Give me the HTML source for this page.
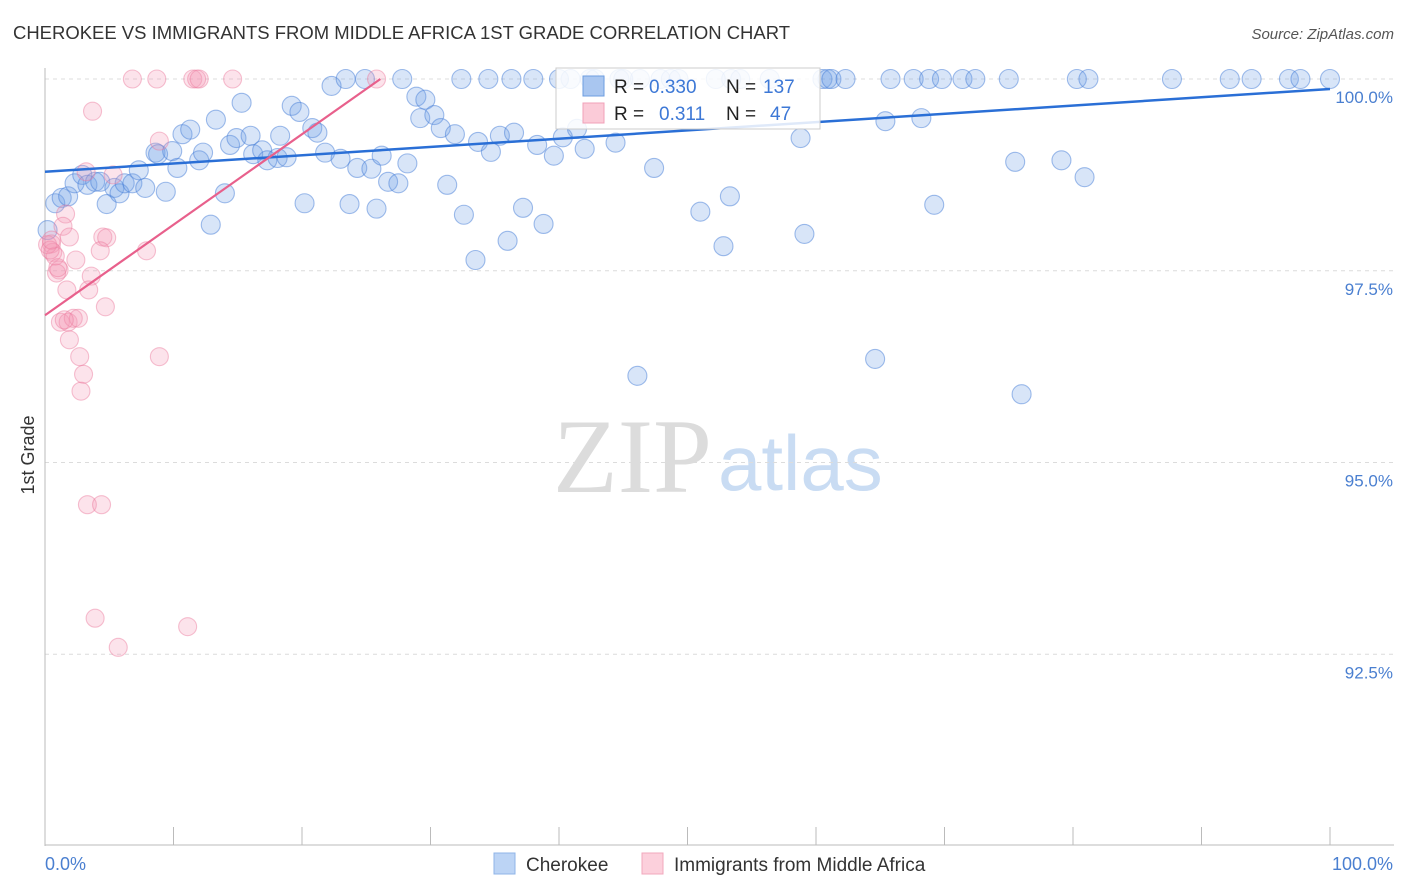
<!DOCTYPE html>
<html><head><meta charset="utf-8"><style>
body{margin:0;background:#fff;font-family:"Liberation Sans",sans-serif;}
svg{display:block}
</style></head><body>
<svg id="chart" width="1406" height="892" xmlns="http://www.w3.org/2000/svg">
<text x="13" y="39" font-size="18" fill="#333" textLength="777" lengthAdjust="spacingAndGlyphs">CHEROKEE VS IMMIGRANTS FROM MIDDLE AFRICA 1ST GRADE CORRELATION CHART</text>
<text x="1394" y="39" font-size="15" fill="#555" font-style="italic" text-anchor="end">Source: ZipAtlas.com</text>
<g>
<text x="553" y="492" font-size="106" font-family="Liberation Serif,serif" fill="#dcdcdc">ZIP</text>
<text x="718" y="490" font-size="78" fill="#c9dcf3">atlas</text>
</g>
<g id="grid"></g>
<g id="axes"></g>
<g id="marks"></g>
<text transform="translate(34,455) rotate(-90)" font-size="18" fill="#333" text-anchor="middle">1st Grade</text>
<g>
<rect x="556" y="68" width="264" height="61" fill="#fff" fill-opacity="0.85" stroke="#ccc"/>
<rect x="583" y="76" width="21" height="20" fill="#a9c6f0" stroke="#6d9de0"/>
<text x="614" y="93" font-size="19" fill="#222">R =</text>
<text x="649" y="93" font-size="19" fill="#3d78d6">0.330</text>
<text x="726" y="93" font-size="19" fill="#222">N =</text>
<text x="763" y="93" font-size="19" fill="#3d78d6">137</text>
<rect x="583" y="103" width="21" height="20" fill="#fbcbd8" stroke="#f0a0b8"/>
<text x="614" y="120" font-size="19" fill="#222">R =</text>
<text x="659" y="120" font-size="19" fill="#3d78d6">0.311</text>
<text x="726" y="120" font-size="19" fill="#222">N =</text>
<text x="770" y="120" font-size="19" fill="#3d78d6">47</text>
</g>
<g>
<rect x="494" y="853" width="21" height="21" fill="#bcd4f5" stroke="#8fb4e8"/>
<text x="526" y="871" font-size="19" fill="#333">Cherokee</text>
<rect x="642" y="853" width="21" height="21" fill="#fcd0dc" stroke="#f2a8bd"/>
<text x="674" y="871" font-size="19" fill="#333">Immigrants from Middle Africa</text>
</g>
</svg>
<script>
const yTicks=[100,97.5,95,92.5];
const yTickLabels=["100.0%","97.5%","95.0%","92.5%"];
const xTickLabels=["0.0%","100.0%"];
const blueX=[0.8,1.3,1.8,2.3,2.9,3.3,3.9,4.3,4.8,5.4,5.8,6.2,6.8,7.3,7.8,8.6,8.8,9.4,9.9,10.3,10.7,11.3,12.0,12.3,12.9,13.3,14.0,14.4,14.9,15.3,16.0,16.2,16.9,17.3,18.1,18.3,18.8,19.2,19.8,20.2,20.8,21.2,21.8,22.3,23.0,23.4,23.7,24.3,24.9,25.4,25.8,26.2,26.7,27.5,27.8,28.2,28.9,29.2,29.6,30.3,30.8,31.3,31.9,32.4,32.6,33.5,33.7,34.5,34.7,35.4,36.0,36.3,36.5,37.2,38.0,38.3,38.8,39.6,40.3,40.9,41.4,42.0,42.4,44.4,44.7,46.1,46.3,47.4,47.9,48.7,49.3,51.0,52.2,52.8,53.3,53.4,54.1,56.4,58.8,59.1,60.5,60.9,61.2,62.3,64.6,65.4,65.8,67.6,68.2,68.8,69.2,69.8,71.4,72.4,75.0,75.5,76.0,79.1,80.3,80.9,81.2,87.7,92.2,93.9,96.8,97.7,100,0.2,40.0,42.8,45.0];
const blueY=[98.38,98.45,98.47,98.64,98.75,98.62,98.66,98.66,98.37,98.58,98.51,98.64,98.64,98.81,98.58,99.04,99.02,98.53,99.06,98.84,99.28,99.34,98.94,99.04,98.10,99.47,98.51,99.14,99.23,99.69,99.26,99.02,99.07,98.94,98.97,99.26,98.98,99.65,99.57,98.38,99.36,99.30,99.04,99.91,98.96,100,98.37,98.84,100,98.83,98.31,99.00,98.66,98.64,100,98.90,99.77,99.49,99.73,99.53,99.36,98.62,99.28,100,98.23,97.64,99.18,100,99.05,99.26,97.89,100,99.30,98.32,100,99.14,98.11,99.00,99.24,100,99.35,99.09,100,99.17,100,96.13,100,98.84,100,100,100,98.27,100,97.82,98.47,100,100,100,99.23,97.98,100,100,100,100,96.35,99.45,100,100,99.49,100,98.36,100,100,100,100,98.92,95.89,98.94,100,98.72,100,100,100,100,100,100,100,98.03,100,100,100];
const pinkX=[6.8,8.7,11.5,11.8,12.0,14.6,25.8,3.7,8.9,3.2,5.3,1.6,1.4,1.9,4.5,4.8,7.9,4.3,0.5,0.6,0.8,2.4,1.1,0.9,3.6,1.7,3.4,4.7,1.2,1.8,2.2,2.6,1.9,2.7,8.9,3.0,2.8,3.3,4.4,3.9,11.1,5.7,0.2,0.4,1.0,1.5,0.5];
const pinkY=[100,100,100,100,100,100,100,99.58,99.19,98.79,98.75,98.24,98.08,97.94,97.94,97.93,97.76,97.76,97.85,97.74,97.69,97.64,97.51,97.47,97.43,97.25,97.25,97.03,96.83,96.83,96.88,96.88,96.60,96.38,96.38,96.15,95.93,94.45,94.45,92.97,92.86,92.59,97.84,97.77,97.54,96.86,97.90];
const blueTrendX=[0,100], blueTrendY=[98.79,99.87];
const pinkTrendX=[0,26.1], pinkTrendY=[96.92,100];

const NS="http://www.w3.org/2000/svg";
const X0=45,X1=1330,YTOP=79,PXPER=76.7;
function sx(v){return X0+(X1-X0)*v/100;}
function sy(v){return YTOP+(100-v)*PXPER;}
function mk(tag,attrs,parent){const e=document.createElementNS(NS,tag);for(const k in attrs)e.setAttribute(k,attrs[k]);parent.appendChild(e);return e;}
const grid=document.getElementById('grid'),axes=document.getElementById('axes'),marks=document.getElementById('marks');
yTicks.forEach((t,i)=>{
  const l=mk('line',{x1:45,x2:1394,y1:sy(t),y2:sy(t),stroke:'#dcdcdc','stroke-dasharray':'4,4'},grid);
  
  
  const tx=mk('text',{x:1393,y:sy(t)+24,'font-size':17,fill:'#4a7fd0','text-anchor':'end'},axes);
  tx.textContent=yTickLabels[i];
  
  
});
let a=mk('line',{x1:45,x2:45,y1:68,y2:846,stroke:'#bbb'},axes);


a=mk('line',{x1:45,x2:1394,y1:845,y2:845,stroke:'#bbb'},axes);


for(let i=0;i<=10;i++){
  const t=mk('line',{x1:sx(i*10),x2:sx(i*10),y1:827,y2:845,stroke:'#bbb'},axes);
  
  
}
let xl=mk('text',{x:45,y:870,'font-size':18,fill:'#4a7fd0'},axes);xl.textContent=xTickLabels[0];


xl=mk('text',{x:1393,y:870,'font-size':18,fill:'#4a7fd0','text-anchor':'end'},axes);xl.textContent=xTickLabels[1];


blueX.forEach((v,i)=>{
  const c=mk('circle',{cx:sx(v),cy:sy(blueY[i]),r:9.5,fill:'rgba(110,160,230,0.27)',stroke:'rgba(70,125,215,0.5)','stroke-width':1.1},marks);
  
  
});
pinkX.forEach((v,i)=>{
  const c=mk('circle',{cx:sx(v),cy:sy(pinkY[i]),r:9,fill:'rgba(245,150,180,0.27)',stroke:'rgba(235,120,155,0.45)','stroke-width':1.1},marks);
  
  
});
let tl=mk('line',{x1:sx(blueTrendX[0]),y1:sy(blueTrendY[0]),x2:sx(blueTrendX[1]),y2:sy(blueTrendY[1]),stroke:'#2a6fd6','stroke-width':2.5},marks);


tl=mk('line',{x1:sx(pinkTrendX[0]),y1:sy(pinkTrendY[0]),x2:sx(pinkTrendX[1]),y2:sy(pinkTrendY[1]),stroke:'#e8608c','stroke-width':2.2},marks);


</script>
</body></html>
